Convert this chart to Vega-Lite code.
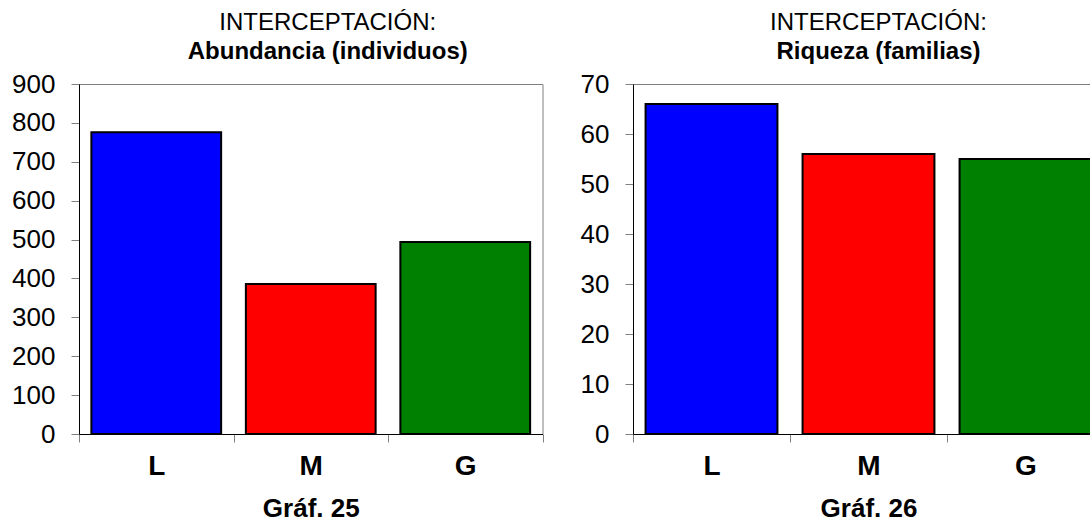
{
  "$schema": "https://vega.github.io/schema/vega-lite/v6.json",
  "padding": {"left": 11, "top": 10, "right": 0, "bottom": 0},
  "background": "white",
  "spacing": 35,
  "config": {
    "font": "Liberation Sans",
    "view": {"stroke": "#808080", "strokeWidth": 1},
    "axis": {
      "grid": false,
      "domainColor": "black",
      "domainWidth": 1,
      "tickColor": "#808080",
      "tickWidth": 1,
      "tickSize": 8,
      "labelColor": "black",
      "labelFont": "Liberation Sans",
      "titleFont": "Liberation Sans",
      "titleColor": "black"
    },
    "title": {
      "font": "Liberation Sans",
      "subtitleFont": "Liberation Sans",
      "fontSize": 24,
      "subtitleFontSize": 24,
      "fontWeight": "normal",
      "subtitleFontWeight": "bold",
      "color": "black",
      "subtitleColor": "black",
      "anchor": "middle",
      "subtitlePadding": 5,
      "offset": 7
    }
  },
  "hconcat": [
    {
      "width": 463.5,
      "height": 350,
      "title": {"text": "INTERCEPTACIÓN:", "subtitle": "Abundancia (individuos)", "dx": 17},
      "data": {"values": [
        {"zona": "L", "valor": 776},
        {"zona": "M", "valor": 386},
        {"zona": "G", "valor": 494}
      ]},
      "mark": {"type": "bar", "stroke": "black", "strokeWidth": 2, "width": {"band": 0.84}},
      "encoding": {
        "x": {
          "field": "zona", "type": "nominal", "sort": ["L", "M", "G"],
          "scale": {"paddingInner": 0, "paddingOuter": 0},
          "axis": {"labelAngle": 0, "labelFontSize": 28, "labelFontWeight": "bold", "labelPadding": 10, "tickBand": "extent", "title": "Gráf. 25", "titleFontSize": 26, "titleFontWeight": "bold", "titlePadding": 15}
        },
        "y": {
          "field": "valor", "type": "quantitative",
          "scale": {"domain": [0, 900], "nice": false},
          "axis": {"values": [0, 100, 200, 300, 400, 500, 600, 700, 800, 900], "labelFontSize": 26, "labelPadding": 16, "title": null}
        },
        "color": {
          "field": "zona", "type": "nominal",
          "scale": {"domain": ["L", "M", "G"], "range": ["#0000FF", "#FF0000", "#008000"]},
          "legend": null
        }
      }
    },
    {
      "width": 471,
      "height": 350,
      "title": {"text": "INTERCEPTACIÓN:", "subtitle": "Riqueza (familias)", "dx": 10},
      "data": {"values": [
        {"zona": "L", "valor": 66},
        {"zona": "M", "valor": 56},
        {"zona": "G", "valor": 55}
      ]},
      "mark": {"type": "bar", "stroke": "black", "strokeWidth": 2, "width": {"band": 0.84}},
      "encoding": {
        "x": {
          "field": "zona", "type": "nominal", "sort": ["L", "M", "G"],
          "scale": {"paddingInner": 0, "paddingOuter": 0},
          "axis": {"labelAngle": 0, "labelFontSize": 28, "labelFontWeight": "bold", "labelPadding": 10, "tickBand": "extent", "title": "Gráf. 26", "titleFontSize": 26, "titleFontWeight": "bold", "titlePadding": 15}
        },
        "y": {
          "field": "valor", "type": "quantitative",
          "scale": {"domain": [0, 70], "nice": false},
          "axis": {"values": [0, 10, 20, 30, 40, 50, 60, 70], "labelFontSize": 26, "labelPadding": 16, "title": null}
        },
        "color": {
          "field": "zona", "type": "nominal",
          "scale": {"domain": ["L", "M", "G"], "range": ["#0000FF", "#FF0000", "#008000"]},
          "legend": null
        }
      }
    }
  ],
  "resolve": {"scale": {"color": "independent"}}
}
